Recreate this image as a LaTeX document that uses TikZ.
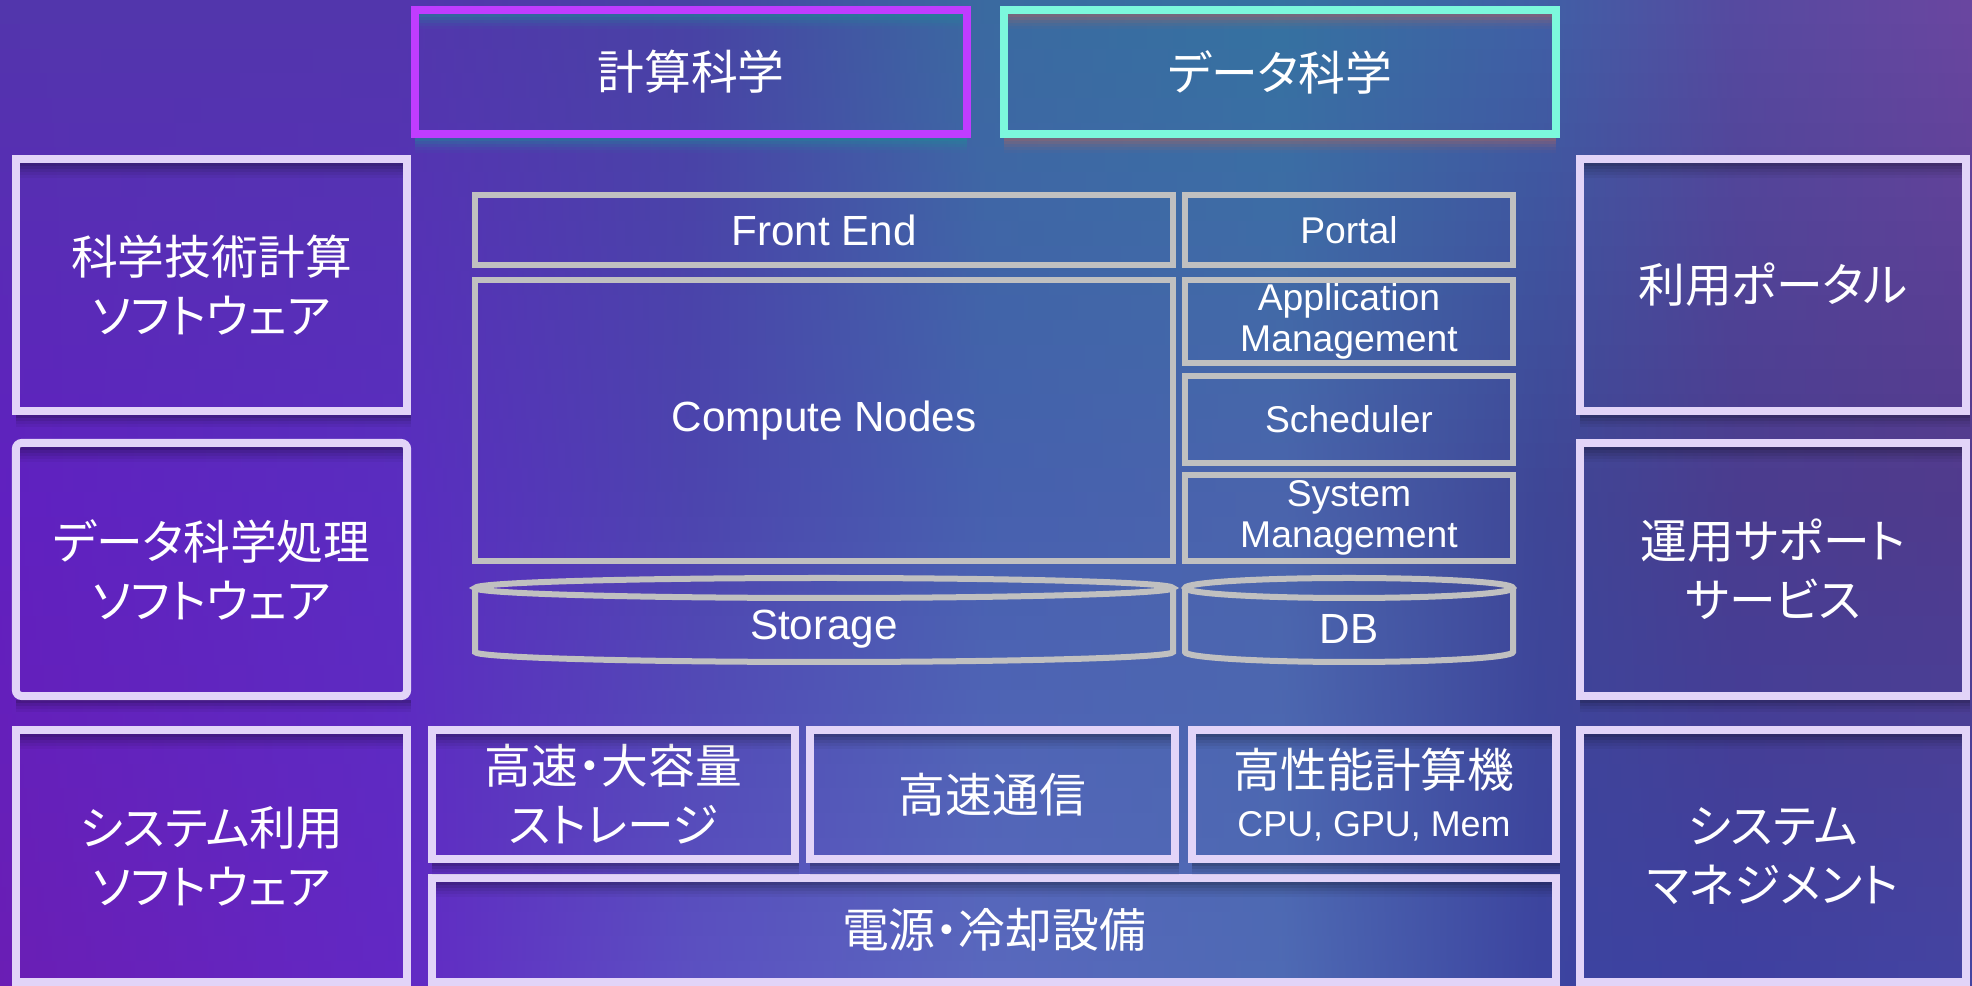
\documentclass[tikz,border=0pt]{standalone}
\usepackage{fontspec}
\setmainfont{Liberation Sans}
\newfontfamily\jpfont[RawFeature=+palt]{Noto Sans CJK JP}
\usetikzlibrary{calc}

\definecolor{lav}{HTML}{E2D4F8}
\definecolor{boxgray}{HTML}{C0C0C0}
\definecolor{kpurple}{HTML}{C03CFF}
\definecolor{dmint}{HTML}{7CF8DC}
\definecolor{kshadow}{HTML}{1E8C96}
\definecolor{dshadow}{HTML}{A86460}

% background rows: top (t), middle (m), bottom (b); stops at x = 0,.2,.35,.5,.65,.78,.88,1
\definecolor{ta}{HTML}{5236AC}\definecolor{tb}{HTML}{5236AC}\definecolor{tc}{HTML}{4842A4}\definecolor{td}{HTML}{3A6AA0}
\definecolor{te}{HTML}{3472A0}\definecolor{tf}{HTML}{4060A6}\definecolor{tg}{HTML}{564AA0}\definecolor{th}{HTML}{6A46A0}
\definecolor{ma}{HTML}{6020C0}\definecolor{mb}{HTML}{5A2CC0}\definecolor{mc}{HTML}{4C44AE}\definecolor{md}{HTML}{4660AE}
\definecolor{me}{HTML}{4A64AC}\definecolor{mf}{HTML}{3E4696}\definecolor{mg}{HTML}{4A3C8E}\definecolor{mh}{HTML}{503A8C}
\definecolor{ba}{HTML}{6A1EB4}\definecolor{bb}{HTML}{6228C4}\definecolor{bc}{HTML}{5C50C2}\definecolor{bd}{HTML}{5A68BE}
\definecolor{be}{HTML}{4E6AB4}\definecolor{bf}{HTML}{3C44A0}\definecolor{bg}{HTML}{3E40A0}\definecolor{bh}{HTML}{4444A2}

\newcommand\mixrow[3]{%
  \colorlet{sa}{#1a!#3!#2a}\colorlet{sb}{#1b!#3!#2b}\colorlet{sc}{#1c!#3!#2c}\colorlet{sd}{#1d!#3!#2d}%
  \colorlet{se}{#1e!#3!#2e}\colorlet{sf}{#1f!#3!#2f}\colorlet{sg}{#1g!#3!#2g}\colorlet{sh}{#1h!#3!#2h}}

\begin{document}
\begin{tikzpicture}[x=0.01cm, y=-0.01cm,
  lavbox/.style={draw=lav, line width=0.08cm, inner sep=0pt, outer sep=0pt,
    text=white, align=center, font=\jpfont\fontsize{13.3pt}{16.8pt}\selectfont},
  topbox/.style={line width=0.08cm, inner sep=0pt, outer sep=0pt,
    text=white, align=center, font=\jpfont\fontsize{13.3pt}{16.8pt}\selectfont},
  graybox/.style={draw=boxgray, line width=0.06cm, inner sep=0pt, outer sep=0pt,
    text=white, align=center, font=\fontsize{12pt}{14pt}\selectfont},
  smallgray/.style={graybox, font=\fontsize{10.6pt}{11.8pt}\selectfont},
  cyl/.style={draw=boxgray, line width=0.06cm},
  cyltext/.style={text=white, inner sep=0pt, font=\fontsize{12pt}{14pt}\selectfont}
]
% background, built from thin horizontally shaded strips
\useasboundingbox (0,0) rectangle (1972,986);
\foreach \i in {0,...,39}{
  \pgfmathsetmacro{\t}{(\i+0.5)/40}
  \ifdim\t pt<0.5pt
    \pgfmathtruncatemacro{\p}{round(100*(1-2*\t))}
    \mixrow{t}{m}{\p}
  \else
    \pgfmathtruncatemacro{\p}{round(100*(2-2*\t))}
    \mixrow{m}{b}{\p}
  \fi
  \pgfdeclarehorizontalshading{strip\i}{100bp}{color(0bp)=(sa); color(25bp)=(sa); color(35bp)=(sb); color(42.5bp)=(sc); color(50bp)=(sd); color(57.5bp)=(se); color(64bp)=(sf); color(69bp)=(sg); color(75bp)=(sh); color(100bp)=(sh)}
  \pgfmathsetmacro{\ya}{\i*24.65}
  \pgfmathsetmacro{\yb}{\i*24.65+25.6}
  \fill[shading=strip\i] (0,\ya) rectangle (1972,\yb);
}

% top boxes
\node[topbox, draw=kpurple, minimum width=5.52cm, minimum height=1.24cm] (keisan) at (691,72) {計算科学};
\node[topbox, draw=dmint, minimum width=5.52cm, minimum height=1.24cm] (datasci) at (1280,72) {データ科学};

% left column
\node[lavbox, minimum width=3.91cm, minimum height=2.52cm] (sw1) at (211.5,285) {科学技術計算\\ソフトウェア};
\node[lavbox, rounded corners=0.06cm, minimum width=3.91cm, minimum height=2.53cm] (sw2) at (211.5,569.5) {データ科学処理\\ソフトウェア};
\node[lavbox, minimum width=3.91cm, minimum height=2.52cm] (sw3) at (211.5,856) {システム利用\\ソフトウェア};

% right column
\node[lavbox, minimum width=3.86cm, minimum height=2.52cm] (uportal) at (1773,285) {利用ポータル};
\node[lavbox, minimum width=3.86cm, minimum height=2.53cm] (opsup) at (1773,569.5) {運用サポート\\サービス};
\node[lavbox, minimum width=3.86cm, minimum height=2.52cm] (sysman) at (1773,856) {システム\\マネジメント};

% center system
\node[graybox, minimum width=6.98cm, minimum height=0.70cm] (fe) at (824,230) {Front End};
\node[smallgray, minimum width=3.28cm, minimum height=0.70cm] (portal) at (1349,230) {Portal};
\node[graybox, minimum width=6.98cm, minimum height=2.81cm] (cn) at (824,420.5) {Compute Nodes};
\node[smallgray, minimum width=3.28cm, minimum height=0.83cm] (app) at (1349,321.5) {Application\\Management};
\node[smallgray, minimum width=3.28cm, minimum height=0.87cm] (sched) at (1349,419.5) {Scheduler};
\node[smallgray, minimum width=3.28cm, minimum height=0.86cm] (sysm) at (1349,518) {System\\Management};

% storage cylinder
\draw[cyl] (824,588) ellipse [x radius=349, y radius=10];
\draw[cyl] (475,588) -- (475,652) arc[start angle=180, end angle=0, x radius=349, y radius=10] -- (1173,588);
\node[cyltext] (storage) at (824,629) {Storage};
% DB cylinder
\draw[cyl] (1349,588) ellipse [x radius=164, y radius=10];
\draw[cyl] (1185,588) -- (1185,652) arc[start angle=180, end angle=0, x radius=164, y radius=10] -- (1513,588);
\node[cyltext] (db) at (1349,629) {DB};

% bottom hardware
\node[lavbox, minimum width=3.63cm, minimum height=1.29cm] (hsstor) at (613.5,794.5) {高速・大容量\\ストレージ};
\node[lavbox, minimum width=3.65cm, minimum height=1.29cm] (hscomm) at (992.5,794.5) {高速通信};
\node[lavbox, minimum width=3.63cm, minimum height=1.29cm] (hpc) at (1374,794.5) {高性能計算機\\[-3pt]{\normalfont\fontsize{10.2pt}{12pt}\selectfont CPU, GPU, Mem}};
\node[lavbox, minimum width=11.24cm, minimum height=1.04cm] (power) at (994,930) {電源・冷却設備};

% soft shadows: inside under the top border, and outside under the bottom border
\foreach \n in {sw1,sw2,sw3,uportal,opsup,sysman,hsstor,hscomm,hpc,power}{
  \foreach \k/\o in {0/0.30,1/0.22,2/0.15,3/0.09,4/0.04}{
    \fill[black, opacity=\o] ($(\n.north west)+(4,4+3*\k)$) rectangle ($(\n.north east)+(-4,7+3*\k)$);
  }
  \foreach \k/\o in {0/0.28,1/0.18,2/0.10,3/0.05}{
    \fill[black, opacity=\o] ($(\n.south west)+(0,4+3*\k)$) rectangle ($(\n.south east)+(4,7+3*\k)$);
  }
}
\foreach \n/\c in {keisan/kshadow,datasci/dshadow}{
  \foreach \k/\o in {0/0.55,1/0.40,2/0.26,3/0.14,4/0.06}{
    \fill[\c, opacity=\o] ($(\n.north west)+(4,4+3*\k)$) rectangle ($(\n.north east)+(-4,7+3*\k)$);
    \fill[\c, opacity=\o] ($(\n.south west)+(0,4+3*\k)$) rectangle ($(\n.south east)+(0,7+3*\k)$);
  }
}
\end{tikzpicture}
\end{document}
